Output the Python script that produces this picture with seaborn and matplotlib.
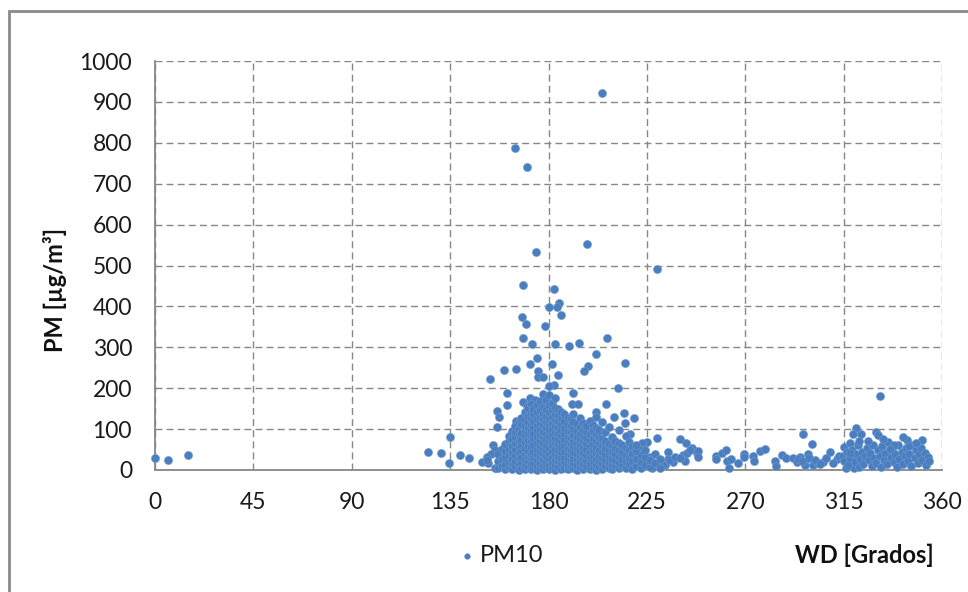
import numpy as np
import pandas as pd
import matplotlib
matplotlib.use("Agg")
import matplotlib.pyplot as plt
from matplotlib.patches import Rectangle
import seaborn as sns

# ---------------- data ----------------
# scattered / isolated points
wd_sc = [0, 6, 15,
         204.5, 164.7, 170, 197.5, 174.1, 229.8, 168.5, 182.4, 184.7, 180.2, 183.9, 185.7,
         168, 169.6, 178.3, 168.5, 206.8, 194, 172.3, 182.8, 189.3, 201.7, 174.7, 215.1,
         171.5, 181.8, 198.2, 165.3, 159.7, 175.1, 196.4, 184.5, 175.3, 177.6, 153.1, 182.5,
         180, 211.7, 161.2, 191.1, 177.6, 171.5, 173.8, 168.5, 161.2, 190.8, 193.7, 206.3,
         170, 156.4, 201.7, 214.5, 157.5, 201.7, 210, 219.3, 165, 215, 156.6, 217.3, 134.8,
         229.8, 225, 240, 243, 154.8, 245.5, 155.5, 247.8, 124.9, 130.7, 139.5, 153.6, 152,
         143.6, 134.3, 149.4, 152.2, 151.7, 156, 155.5,
         234.8, 234.8, 237.1, 241.5, 242.4, 233.3, 221.9, 219.6, 227.2, 226.4, 218.8, 232.5,
         235.6, 237.9, 240.2, 243.2, 222.6, 223.4, 221.1]
pm_sc = [30, 25, 37,
         922, 787, 740, 552, 533, 492, 452, 442, 408, 398, 398, 380,
         373, 358, 351, 323, 323, 311, 309, 307, 303, 283, 275, 261,
         260, 260, 255, 248, 245, 242, 242, 232, 228, 228, 222, 208,
         206, 201, 188, 189, 187, 175, 171, 167, 160, 161, 161, 161,
         156, 144, 143, 139, 129, 130, 129, 128, 121, 114, 106, 88, 81,
         78, 69, 75, 66, 60, 53, 49, 41, 43, 41, 37, 39, 33,
         29, 16, 19, 18, 24, 6, 4,
         45, 26, 20, 37, 22, 12, 16, 10, 4, 33, 8, 12,
         24, 33, 29, 41, 65, 45, 53]

# dense southern core: wind-direction columns and the PM values stacked in each
core_wd = [156.8, 158.6, 160.1, 161.9, 163.2, 164.8, 166.3, 167.6, 169.2, 170.4, 171.9,
           173.1, 174.6, 176.0, 177.3, 178.9, 180.2, 181.6, 183.1, 184.3, 185.8, 187.2,
           188.7, 190.1, 191.4, 193.0, 194.3, 195.9, 197.2, 198.8, 200.3, 201.6, 203.2,
           204.7, 206.0, 207.6, 209.1, 210.5, 212.2, 213.6, 215.3, 216.9, 218.4, 220.2,
           222.1, 224.0, 226.3, 228.5, 231.0]
core_pm = [
    [4, 21, 38],
    [9, 27, 52],
    [2, 14, 31, 46, 63],
    [7, 19, 36, 50, 71, 84],
    [3, 16, 28, 44, 59, 75, 96],
    [10, 23, 37, 52, 66, 81, 93, 108],
    [1, 15, 30, 42, 57, 70, 88, 101, 117],
    [6, 19, 33, 48, 61, 77, 90, 112, 128],
    [3, 12, 27, 41, 53, 68, 83, 98, 107, 123, 141],
    [8, 21, 35, 47, 62, 74, 89, 102, 118, 133, 152],
    [2, 15, 29, 40, 56, 71, 84, 95, 111, 126, 139, 162],
    [6, 18, 33, 45, 60, 78, 91, 104, 120, 137, 149],
    [1, 11, 24, 38, 51, 66, 80, 97, 109, 124, 143, 158],
    [5, 17, 31, 43, 58, 72, 86, 100, 115, 129, 146, 168],
    [3, 13, 27, 39, 54, 67, 83, 94, 110, 127, 138, 155],
    [7, 20, 34, 48, 61, 75, 89, 104, 118, 133, 150, 172],
    [2, 15, 26, 42, 55, 70, 82, 99, 112, 126, 141, 158, 183],
    [5, 19, 31, 46, 60, 73, 88, 101, 116, 130, 147, 165],
    [1, 12, 25, 39, 52, 68, 79, 94, 108, 123, 137, 152, 176],
    [8, 22, 35, 49, 63, 77, 91, 105, 119, 134, 149],
    [3, 16, 29, 44, 57, 71, 85, 98, 113, 128, 143],
    [6, 19, 33, 47, 61, 76, 90, 103, 121, 136],
    [2, 13, 27, 40, 54, 68, 82, 96, 110, 126],
    [9, 23, 36, 50, 64, 79, 93, 107, 124],
    [4, 16, 30, 43, 58, 71, 86, 100, 117, 138],
    [1, 12, 26, 39, 53, 67, 81, 95, 112],
    [7, 20, 34, 47, 62, 75, 91, 104, 126],
    [3, 15, 29, 42, 56, 70, 84, 99, 114],
    [10, 24, 37, 51, 65, 79, 96, 108],
    [2, 17, 31, 45, 59, 73, 88, 121],
    [6, 20, 34, 48, 63, 78, 95, 110],
    [1, 13, 28, 41, 55, 71, 86, 102],
    [8, 22, 36, 50, 66, 81, 97],
    [3, 17, 30, 45, 61, 76, 118],
    [11, 25, 39, 55, 71, 92],
    [5, 19, 34, 49, 64, 105],
    [2, 14, 28, 43, 59, 80],
    [9, 24, 38, 54, 72],
    [4, 18, 33, 49, 66, 98],
    [12, 27, 43, 60],
    [6, 21, 37, 55, 84],
    [14, 30, 48, 69],
    [3, 23, 40, 58],
    [10, 28, 46, 62],
    [5, 20, 37],
    [13, 31, 50],
    [8, 25],
    [17, 38],
    [6, 28],
]

# western sector (about 244-313 degrees)
wd_w = [244.7, 248.5, 248.5, 256.6, 259.2, 261.2, 256.6, 261.5, 263.4, 262.7, 266.6,
        269.4, 269.4, 273.7, 274.2, 276.8, 279, 283.8, 284, 286.7, 288.7, 292, 293.5,
        295, 298.9, 297.4, 301.1, 303.4, 305.7, 308.8, 311.8, 296.6, 300.6,
        294, 296, 299, 302, 304, 307, 310, 313]
pm_w = [49, 47, 31, 34, 42, 50, 28, 23, 26, 4, 16,
        39, 31, 34, 23, 46, 51, 22, 10, 36, 29, 29, 20,
        33, 39, 12, 12, 18, 20, 45, 26, 88, 63,
        28, 22, 30, 25, 14, 30, 18, 35]

# north-western sector (about 314-354 degrees)
wd_nw = [320.5, 319.5, 323, 329.7, 330.6, 331.7, 343.9, 351, 315.4, 317.9, 315.9, 319.7,
         314.5, 315, 316.5, 317, 318, 319, 320, 320.5, 321.5, 322, 322.5, 323.5, 324,
         325, 325.5, 326.5, 327, 328, 328.5, 329, 330, 330.5, 331.5, 332, 332.5, 333.5,
         334, 335, 335.5, 336.5, 337, 338, 338.5, 339.5, 340, 340.5, 341.5, 342, 343,
         343.5, 344.5, 345, 346, 346.5, 347.5, 348, 349, 349.5, 350.5, 351, 352, 352.5,
         353.5, 354, 326, 333, 338, 342, 336, 345, 322, 318, 348]
pm_nw = [103, 88, 88, 92, 85, 182, 73, 73, 57, 65, 6, 4,
         35, 22, 45, 12, 30, 50, 20, 38, 60, 8, 28, 45, 15,
         35, 55, 25, 42, 10, 62, 30, 18, 48, 35, 8, 58, 25,
         42, 15, 68, 32, 50, 20, 40, 8, 60, 28, 45, 15, 35,
         55, 22, 40, 10, 62, 30, 48, 18, 38, 55, 25, 42, 12,
         32, 22, 70, 75, 62, 80, 52, 58, 72, 42, 65]

x_ticks = [0, 45, 90, 135, 180, 225, 270, 315, 360]
y_ticks = [0, 100, 200, 300, 400, 500, 600, 700, 800, 900, 1000]
series_name = "PM10"

# ---------------- assemble ----------------
core_x = [w for w, vals in zip(core_wd, core_pm) for _ in vals]
core_y = [v for vals in core_pm for v in vals]
df = pd.DataFrame({
    "WD": wd_sc + core_x + wd_w + wd_nw,
    "PM": pm_sc + core_y + pm_w + pm_nw,
})

# ---------------- style ----------------
sns.set_style("white")
plt.rcParams["font.family"] = ["Lato", "DejaVu Sans"]

W, H = 968, 592
fig = plt.figure(figsize=(W / 100, H / 100), dpi=100)
ax = fig.add_axes([155 / W, 1 - 470 / H, 787 / W, 409 / H])

blue = "#4A7EBF"
sns.scatterplot(data=df, x="WD", y="PM", ax=ax, s=34, color=blue,
                edgecolor="#6E9AD0", linewidth=0.4, label=series_name,
                zorder=3, clip_on=False)

ax.set_xlim(0, 360)
ax.set_ylim(0, 1000)
ax.set_xticks(x_ticks)
ax.set_yticks(y_ticks)
ax.set_xlabel("")
ax.set_ylabel("")

grey = "#878787"
ax.grid(True, linestyle=(0, (5, 3)), color=grey, linewidth=1.0)
ax.set_axisbelow(True)
for side in ("top", "right"):
    ax.spines[side].set_visible(False)
for side in ("left", "bottom"):
    ax.spines[side].set_color(grey)
    ax.spines[side].set_linewidth(1.3)

ax.tick_params(axis="both", direction="out", length=6.5, width=1.0, color=grey,
               labelsize=16.5, labelcolor="#1a1a1a")
ax.tick_params(axis="y", pad=10)
ax.tick_params(axis="x", pad=9)

fig.text(55 / W, 1 - 290 / H, "PM [µg/m³]", rotation=90, ha="center", va="center",
         fontsize=17, fontweight="bold", color="#111111")
fig.text(934 / W, 1 - 555 / H, "WD [Grados]", ha="right", va="center",
         fontsize=17, fontweight="bold", color="#111111")

leg = ax.legend(loc="center left", bbox_to_anchor=(456 / W, 1 - 556 / H),
                bbox_transform=fig.transFigure, frameon=False, fontsize=17,
                markerscale=0.7, handletextpad=0.1, handlelength=0.9,
                borderpad=0, borderaxespad=0)
for t in leg.get_texts():
    t.set_color("#1a1a1a")

# outer chart frame
fig.patches.append(Rectangle((9 / W, -0.1), 1.2, (H - 11) / H + 0.1,
                             transform=fig.transFigure, fill=False,
                             edgecolor="#8A8A8A", linewidth=2.0, zorder=0))

fig.savefig("out.png", dpi=100)
